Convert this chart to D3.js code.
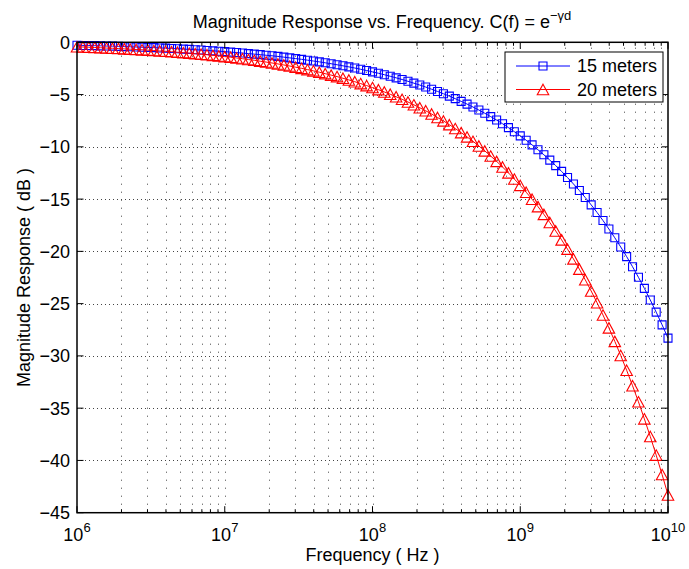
<!DOCTYPE html>
<html>
<head>
<meta charset="utf-8">
<script src="https://cdn.jsdelivr.net/npm/d3@7"></script>
<style>
  html, body { margin: 0; padding: 0; background: #fff; }
  svg { display: block; }
  text { font-family: "Liberation Sans", Arial, Helvetica, sans-serif; fill: #000; }
</style>
</head>
<body>
<svg id="chart" width="689" height="569"></svg>
<script>
// ---- Data ----
const freqExp = [
  6.00,6.04,6.08,6.12,6.16,6.20,6.24,6.28,6.32,6.36,6.40,6.44,6.48,6.52,6.56,6.60,6.64,6.68,6.72,6.76,6.80,6.84,6.88,6.92,6.96,
  7.00,7.04,7.08,7.12,7.16,7.20,7.24,7.28,7.32,7.36,7.40,7.44,7.48,7.52,7.56,7.60,7.64,7.68,7.72,7.76,7.80,7.84,7.88,7.92,7.96,
  8.00,8.04,8.08,8.12,8.16,8.20,8.24,8.28,8.32,8.36,8.40,8.44,8.48,8.52,8.56,8.60,8.64,8.68,8.72,8.76,8.80,8.84,8.88,8.92,8.96,
  9.00,9.04,9.08,9.12,9.16,9.20,9.24,9.28,9.32,9.36,9.40,9.44,9.48,9.52,9.56,9.60,9.64,9.68,9.72,9.76,9.80,9.84,9.88,9.92,9.96,
  10.00
];
const db15m = [
  -0.28,-0.30,-0.31,-0.32,-0.34,-0.36,-0.37,-0.39,-0.41,-0.43,-0.45,-0.47,-0.49,-0.51,-0.54,-0.56,-0.59,-0.62,-0.65,-0.68,-0.71,-0.74,-0.78,-0.82,-0.85,
  -0.89,-0.94,-0.98,-1.03,-1.08,-1.13,-1.18,-1.24,-1.29,-1.35,-1.42,-1.49,-1.56,-1.63,-1.71,-1.79,-1.87,-1.96,-2.05,-2.15,-2.25,-2.35,-2.46,-2.58,-2.70,
  -2.83,-2.96,-3.10,-3.25,-3.40,-3.56,-3.73,-3.91,-4.09,-4.28,-4.49,-4.70,-4.92,-5.15,-5.39,-5.65,-5.91,-6.19,-6.48,-6.79,-7.11,-7.44,-7.79,-8.16,-8.55,
  -8.95,-9.37,-9.81,-10.28,-10.76,-11.27,-11.80,-12.35,-12.94,-13.55,-14.18,-14.85,-15.55,-16.28,-17.05,-17.86,-18.70,-19.58,-20.50,-21.47,-22.48,-23.54,-24.65,-25.81,-27.03,
  -28.30
];
const db20m = [
  -0.43,-0.45,-0.47,-0.50,-0.52,-0.55,-0.57,-0.60,-0.63,-0.66,-0.69,-0.72,-0.75,-0.79,-0.83,-0.86,-0.90,-0.95,-0.99,-1.04,-1.09,-1.14,-1.19,-1.25,-1.31,
  -1.37,-1.43,-1.50,-1.57,-1.65,-1.72,-1.81,-1.89,-1.98,-2.07,-2.17,-2.27,-2.38,-2.49,-2.61,-2.73,-2.86,-3.00,-3.14,-3.28,-3.44,-3.60,-3.77,-3.95,-4.14,
  -4.33,-4.53,-4.75,-4.97,-5.21,-5.45,-5.71,-5.98,-6.26,-6.55,-6.86,-7.19,-7.52,-7.88,-8.25,-8.64,-9.05,-9.47,-9.92,-10.39,-10.88,-11.39,-11.93,-12.49,-13.08,
  -13.69,-14.34,-15.01,-15.72,-16.46,-17.24,-18.05,-18.90,-19.79,-20.72,-21.70,-22.72,-23.79,-24.92,-26.09,-27.32,-28.61,-29.96,-31.37,-32.85,-34.39,-36.02,-37.71,-39.49,-41.35,
  -43.30
];
const seriesNames = ["15 meters", "20 meters"];
const seriesColors = ["#0000ff", "#ff0000"];
const xTickExps = [6, 7, 8, 9, 10];
const yTicks = [0, -5, -10, -15, -20, -25, -30, -35, -40, -45];
const titleMain = "Magnitude Response vs. Frequency. C(f) = e";
const titleSup = "\u2212\u03b3d";
const xLabel = "Frequency ( Hz )";
const yLabel = "Magnitude Response ( dB )";

// ---- Layout ----
const svg = d3.select("#chart");
const L = 77, R = 668, T = 42.3, B = 512.7;
const x = d3.scaleLog().domain([1e6, 1e10]).range([L, R]);
const y = d3.scaleLinear().domain([-45, 0]).range([B, T]);

// minor tick/grid positions on log axis
const minorVals = [];
for (let e = 6; e < 10; e++) for (let m = 2; m <= 9; m++) minorVals.push(m * Math.pow(10, e));
const majorVals = xTickExps.map(e => Math.pow(10, e));

// ---- Grid ----
const grid = svg.append("g").attr("stroke", "#444").attr("stroke-width", 1).attr("fill", "none");
grid.selectAll("line.vg").data(majorVals.concat(minorVals).filter(v => v > 1e6 && v < 1e10))
  .enter().append("line")
  .attr("x1", d => Math.round(x(d)) + 0.5).attr("x2", d => Math.round(x(d)) + 0.5)
  .attr("y1", B).attr("y2", T)
  .attr("stroke-dasharray", "1,7");
grid.selectAll("line.hg").data(yTicks.filter(v => v > -45 && v < 0))
  .enter().append("line")
  .attr("x1", L).attr("x2", R)
  .attr("y1", d => Math.round(y(d)) + 0.5).attr("y2", d => Math.round(y(d)) + 0.5)
  .attr("stroke-dasharray", "1,3");

// ---- Series ----
const allSeries = [db15m, db20m];
const line = d3.line().x((d, i) => x(Math.pow(10, freqExp[i]))).y(d => y(d));
const sqSize = 8, triW = 11.5, triH = 10.5;
function markerPath(k) {
  if (k === 0) {
    const h = sqSize / 2;
    return `M${-h},${-h}H${h}V${h}H${-h}Z`;
  }
  return `M0,${-triH / 2}L${triW / 2},${triH / 2}L${-triW / 2},${triH / 2}Z`;
}
allSeries.forEach((vals, k) => {
  const g = svg.append("g");
  g.append("path").datum(vals).attr("d", line)
    .attr("fill", "none").attr("stroke", seriesColors[k]).attr("stroke-width", 1);
  g.selectAll("path.m").data(vals).enter().append("path")
    .attr("transform", (d, i) => `translate(${x(Math.pow(10, freqExp[i]))},${y(d)})`)
    .attr("d", markerPath(k))
    .attr("fill", "none").attr("stroke", seriesColors[k]).attr("stroke-width", 1.1);
});

// ---- Axes box and ticks ----
const ax = svg.append("g").attr("stroke", "#000").attr("fill", "none");
ax.append("rect").attr("x", L).attr("y", T).attr("width", R - L).attr("height", B - T)
  .attr("stroke-width", 1.5);
const majLen = 6.5, minLen = 3.5;
majorVals.forEach(v => {
  ax.append("line").attr("x1", x(v)).attr("x2", x(v)).attr("y1", B).attr("y2", B - majLen);
  ax.append("line").attr("x1", x(v)).attr("x2", x(v)).attr("y1", T).attr("y2", T + majLen);
});
minorVals.forEach(v => {
  ax.append("line").attr("x1", x(v)).attr("x2", x(v)).attr("y1", B).attr("y2", B - minLen);
  ax.append("line").attr("x1", x(v)).attr("x2", x(v)).attr("y1", T).attr("y2", T + minLen);
});
yTicks.forEach(v => {
  ax.append("line").attr("x1", L).attr("x2", L + majLen).attr("y1", y(v)).attr("y2", y(v));
  ax.append("line").attr("x1", R).attr("x2", R - majLen).attr("y1", y(v)).attr("y2", y(v));
});

// ---- Tick labels ----
const fs = 18;
xTickExps.forEach(e => {
  const t = svg.append("text").attr("x", x(Math.pow(10, e))).attr("y", 541)
    .attr("text-anchor", "middle").attr("font-size", fs);
  t.append("tspan").text("10");
  t.append("tspan").attr("dy", -9).attr("font-size", 13).text(String(e));
});
yTicks.forEach(v => {
  svg.append("text").attr("x", 70).attr("y", y(v)).attr("dy", "0.36em")
    .attr("text-anchor", "end").attr("font-size", fs)
    .text(v === 0 ? "0" : "\u2212" + Math.abs(v));
});

// ---- Labels ----
const tt = svg.append("text").attr("x", 382).attr("y", 28).attr("text-anchor", "middle").attr("font-size", fs);
tt.append("tspan").text(titleMain);
tt.append("tspan").attr("dy", -8).attr("font-size", 13).text(titleSup);

svg.append("text").attr("x", (L + R) / 2).attr("y", 561).attr("text-anchor", "middle")
  .attr("font-size", fs).text(xLabel);
svg.append("text").attr("transform", `translate(30,${(T + B) / 2}) rotate(-90)`)
  .attr("text-anchor", "middle").attr("font-size", fs).text(yLabel);

// ---- Legend ----
const lg = svg.append("g");
lg.append("rect").attr("x", 505).attr("y", 52).attr("width", 158).attr("height", 50)
  .attr("fill", "#fff").attr("stroke", "#000").attr("stroke-width", 1);
seriesNames.forEach((name, k) => {
  const cy = 66 + k * 23.5;
  lg.append("line").attr("x1", 516).attr("x2", 570).attr("y1", cy).attr("y2", cy)
    .attr("stroke", seriesColors[k]).attr("stroke-width", 1);
  lg.append("path").attr("transform", `translate(543,${cy})`).attr("d", markerPath(k))
    .attr("fill", "none").attr("stroke", seriesColors[k]).attr("stroke-width", 1.1);
  lg.append("text").attr("x", 577).attr("y", cy).attr("dy", "0.36em").attr("font-size", fs).text(name);
});
</script>
</body>
</html>
